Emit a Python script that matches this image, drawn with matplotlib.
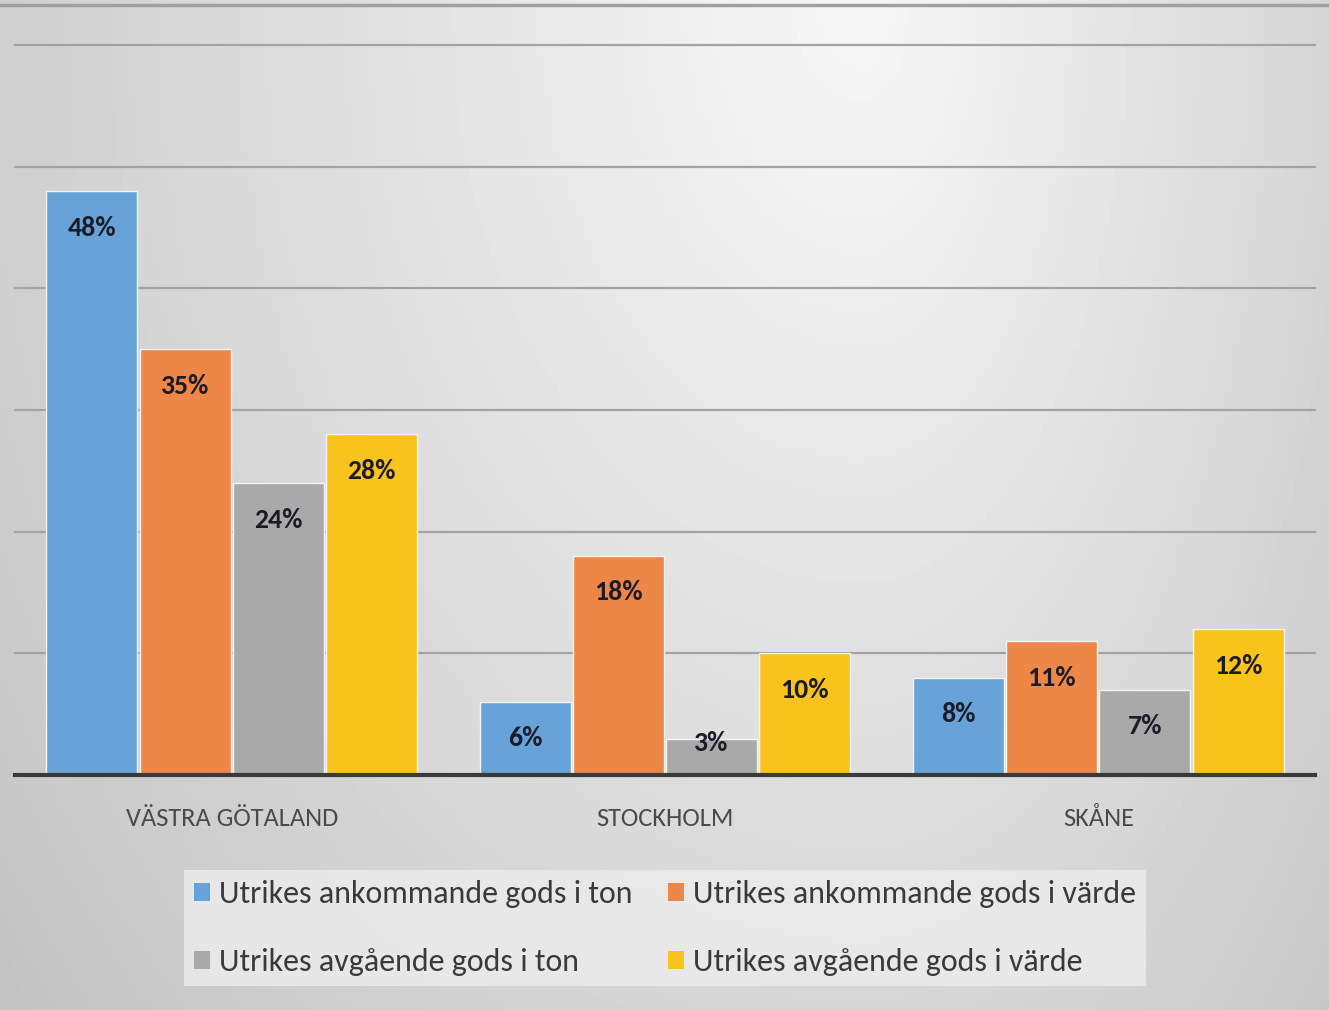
"""Grouped bar chart: share of foreign goods traffic per region (ton vs value)."""

import matplotlib

matplotlib.use("Agg")
import matplotlib.pyplot as plt
import numpy as np
from matplotlib.patches import Patch

plt.rcParams["font.family"] = ["Carlito", "DejaVu Sans"]

# --- data ----------------------------------------------------------------------------------
regions = ["VÄSTRA GÖTALAND", "STOCKHOLM", "SKÅNE"]
series_names = [
    "Utrikes ankommande gods i ton",
    "Utrikes ankommande gods i värde",
    "Utrikes avgående gods i ton",
    "Utrikes avgående gods i värde",
]
ankommande_ton = [48, 6, 8]
ankommande_varde = [35, 18, 11]
avgaende_ton = [24, 3, 7]
avgaende_varde = [28, 10, 12]
gridlines = [10, 20, 30, 40, 50, 60]

# --- style ---------------------------------------------------------------------------------
COLORS = ["#67A2D8", "#EC8747", "#A9A9A9", "#F9C31E"]
BAR_W = 0.21
STEP = 0.215
TEXT = "#1c1c28"

fig = plt.figure(figsize=(13.29, 10.10), dpi=100)

# soft radial gradient behind everything, brightest near the top right of centre
bg = fig.add_axes([0, 0, 1, 1], zorder=-10)
yy, xx = np.mgrid[0:1:200j, 0:1:260j]
dx = np.where(xx < 0.65, (xx - 0.65) / 0.7, (xx - 0.65) / 0.45)
r = np.sqrt(dx ** 2 + (yy / 1.3) ** 2)
shade = 0.97 - 0.17 * np.clip(r, 0, 1.2)
bg.imshow(shade, cmap="gray", vmin=0, vmax=1, aspect="auto", extent=[0, 1, 1, 0])
bg.axhline(5 / 1010, color="#a0a0a0", linewidth=2.5)
bg.set_xlim(0, 1)
bg.set_ylim(1, 0)
bg.axis("off")

ax = fig.add_axes([15 / 1329, 235 / 1010, 1300 / 1329, 730 / 1010])
ax.set_facecolor("none")

x = np.arange(len(regions))
all_series = [ankommande_ton, ankommande_varde, avgaende_ton, avgaende_varde]
for i, (vals, color) in enumerate(zip(all_series, COLORS)):
    pos = x + (i - 1.5) * STEP
    ax.bar(pos, vals, width=BAR_W, color=color, edgecolor="#f4f4f4",
           linewidth=1.0, zorder=3)
    for px, v in zip(pos, vals):
        ax.text(px, max(v - 3.0, 2.6), f"{v}%", ha="center", va="center",
                fontsize=20, fontweight="bold", color=TEXT, zorder=4)

for g in gridlines:
    ax.axhline(g, color="#a3a3a3", linewidth=1.6, zorder=1, clip_on=False)
ax.axhline(0, color="#3a3a3a", linewidth=3, zorder=5, clip_on=False)

ax.set_xlim(-0.5, 2.5)
ax.set_ylim(0, 60)
ax.set_yticks([])
ax.set_xticks(x)
ax.set_xticklabels(regions, fontsize=19, color="#4a4a4a")
ax.tick_params(axis="x", length=0, pad=23)
for s in ax.spines.values():
    s.set_visible(False)

# legend rows: ankommande on top, avgående below (matplotlib fills columns first)
order = [0, 2, 1, 3]
handles = [Patch(facecolor=COLORS[k], edgecolor="none") for k in order]
labels = [series_names[k] for k in order]
leg = fig.legend(
    handles, labels, loc="center", bbox_to_anchor=(665 / 1329, 1 - 928 / 1010),
    ncol=2, fontsize=23, frameon=True, fancybox=False, handlelength=0.5,
    handleheight=0.5, handletextpad=0.3, columnspacing=1.1, labelspacing=1.25,
    borderpad=0.3, borderaxespad=0.0,
)
leg.get_frame().set_facecolor("#ececec")
leg.get_frame().set_edgecolor("none")
leg.get_frame().set_alpha(0.85)
for t in leg.get_texts():
    t.set_color("#3a3a3a")

fig.savefig("out.png", dpi=100)
